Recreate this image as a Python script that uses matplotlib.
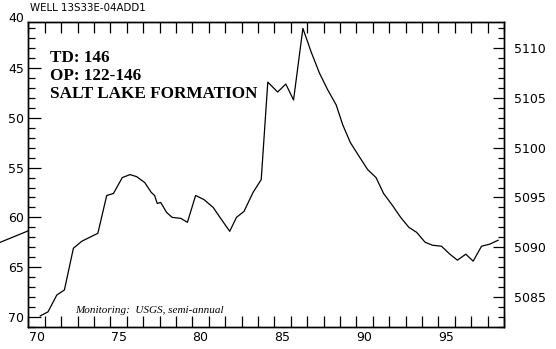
import matplotlib
matplotlib.use("Agg")
import matplotlib.pyplot as plt
from matplotlib.ticker import MultipleLocator, FixedLocator, NullFormatter

# depth to water below land surface (ft), semi-annual readings
years = [70.73, 71.2, 71.74, 72.2, 72.75, 73.26, 74.24, 74.78, 75.19, 75.73,
         76.2, 76.6, 77.1, 77.5, 77.7, 77.86, 78.07, 78.43, 78.77, 79.3,
         79.7, 80.2, 80.7, 81.27, 81.77, 82.28, 82.69, 83.15, 83.7, 84.2,
         84.6, 85.2, 85.7, 86.17, 86.74, 87.25, 87.75, 88.26, 88.77, 89.17,
         89.64, 90.18, 90.69, 91.2, 91.66, 92.2, 92.7, 93.2, 93.67, 94.19,
         94.64, 95.19, 95.7, 96.16, 96.67, 97.12, 97.63, 98.12, 98.64]
depth = [69.9, 69.5, 67.8, 67.3, 63.1, 62.4, 61.6, 57.8, 57.6, 56.0,
         55.7, 55.9, 56.5, 57.5, 57.8, 58.6, 58.5, 59.5, 60.0, 60.1,
         60.5, 57.8, 58.2, 59.0, 60.2, 61.4, 60.0, 59.4, 57.5, 56.2,
         46.4, 47.4, 46.6, 48.2, 41.0, 43.4, 45.5, 47.2, 48.7, 50.7,
         52.5, 53.9, 55.2, 56.0, 57.6, 58.8, 60.0, 61.0, 61.5, 62.5,
         62.8, 62.9, 63.7, 64.3, 63.7, 64.4, 62.9, 62.7, 62.3]

# short piece of the record before 1970
early_years = [68.0, 70.0]
early_depth = [62.7, 61.35]

land_surface = 5153  # ft, elevation of well head
year_labels = ["70", "75", "80", "85", "90", "95"]
year_label_pos = [70.5, 75.5, 80.5, 85.5, 90.5, 95.5]

depth_top, depth_bottom = 40.33, 71.05

fig = plt.figure(figsize=(5.56, 3.49), dpi=100)
ax = fig.add_axes([28.3 / 556, 1 - 327.3 / 349, (504 - 28.3) / 556, (327.3 - 21.7) / 349])

ax.plot(years, depth, color="black", lw=0.9)
ax.plot(early_years, early_depth, color="black", lw=0.9, clip_on=False)

ax.set_xlim(70, 99)
ax.set_ylim(depth_bottom, depth_top)

for sp in ax.spines.values():
    sp.set_linewidth(1.0)

# year ticks on every Jan 1, labels centred on the year
ax.xaxis.set_major_locator(MultipleLocator(1))
ax.xaxis.set_major_formatter(NullFormatter())
ax.xaxis.set_minor_locator(FixedLocator(year_label_pos))
ax.xaxis.set_minor_formatter(plt.FixedFormatter(year_labels))
ax.tick_params(axis="x", which="major", direction="in", length=8, width=0.9,
               top=True, bottom=True)
ax.tick_params(axis="x", which="minor", length=0, pad=3, labelsize=9)

ax.yaxis.set_major_locator(MultipleLocator(5))
ax.yaxis.set_minor_locator(MultipleLocator(1))
ax.tick_params(axis="y", which="major", direction="in", length=9, width=0.9,
               labelsize=9, pad=3)
ax.tick_params(axis="y", which="minor", direction="in", length=5, width=0.9)

# the scale starts just below 40 ft, so its top label sits above the frame
ax.annotate("40", xy=(0, depth_top - 0.33), xycoords=("axes fraction", "data"),
            xytext=(-3, 0), textcoords="offset points", ha="right", va="center",
            fontsize=9, annotation_clip=False)

# elevation scale on the right
ax2 = ax.twinx()
ax2.set_ylim(land_surface - depth_bottom, land_surface - depth_top)
ax2.yaxis.set_major_locator(MultipleLocator(5))
ax2.yaxis.set_minor_locator(MultipleLocator(1))
ax2.tick_params(axis="y", which="major", direction="in", length=8, width=0.9,
                labelsize=9, pad=7)
ax2.tick_params(axis="y", which="minor", direction="in", length=4.5, width=0.9)
for sp in ax2.spines.values():
    sp.set_linewidth(1.0)

fig.text(30 / 556, 1 - 8 / 349, "WELL 13S33E-04ADD1", fontsize=7.4, va="center")
fig.text(50 / 556, 1 - 50 / 349, "TD: 146\nOP: 122-146\nSALT LAKE FORMATION",
         family="Liberation Serif", weight="bold", fontsize=12.3, va="top",
         linespacing=1.15)
fig.text(75 / 556, 1 - 312.7 / 349, "Monitoring:  USGS, semi-annual",
         family="Liberation Serif", style="italic", fontsize=8, va="baseline")

fig.savefig("out.png", dpi=100)
